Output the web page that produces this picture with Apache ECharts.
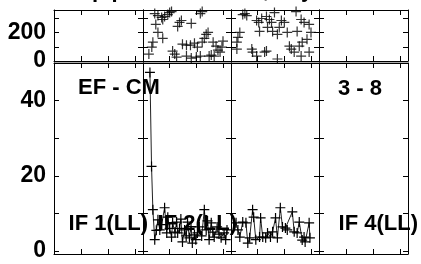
<!DOCTYPE html>
<html>
<head>
<meta charset="utf-8">
<script src="https://cdn.jsdelivr.net/npm/echarts@6/dist/echarts.min.js"></script>
<style>
  html, body { margin: 0; padding: 0; background: #fff; }
  #chart { width: 421px; height: 264px; }
</style>
</head>
<body>
<div id="chart"></div>
<script>
// phase (deg) vs time, IF 2 and IF 3
var tPh2 = [0.22, 0.33, 0.37, 0.44, 0.48, 0.56, 0.56, 0.70, 0.74, 0.74, 0.81, 0.93, 1.00, 1.07, 1.11, 1.19, 1.26, 1.30, 1.37, 1.44, 1.48, 1.63, 1.63, 1.78, 1.81, 1.81, 1.93, 2.00, 2.04, 2.15, 2.15, 2.22, 2.22, 2.30, 2.37, 2.44, 2.48, 2.56, 2.63, 2.67, 2.74, 2.81, 2.89, 2.96, 3.00];
var ph2  = [49, 98, 133, 335, 258, 321, 202, 307, 293, 160, 314, 328, 342, 349, 70, 49, 28, 244, 272, 286, 119, 112, 35, 112, 265, 21, 126, 28, 98, 335, 35, 349, 133, 160, 188, 202, 35, 42, 133, 35, 105, 77, 63, 98, 140];
var tPh3 = [0.22, 0.22, 0.26, 0.33, 0.44, 0.52, 0.59, 0.78, 0.81, 0.96, 0.96, 1.04, 1.07, 1.15, 1.26, 1.33, 1.33, 1.37, 1.44, 1.52, 1.56, 1.63, 1.74, 1.74, 1.81, 1.89, 2.00, 2.11, 2.19, 2.26, 2.37, 2.44, 2.48, 2.56, 2.63, 2.63, 2.67, 2.74, 2.85, 2.93, 2.93, 3.00];
var ph3  = [133, 84, 167, 202, 328, 335, 321, 84, 63, 286, 35, 272, 209, 300, 63, 314, 70, 237, 293, 272, 209, 342, 188, 14, 237, 286, 272, 202, 105, 84, 63, 349, 209, 105, 293, 35, 133, 272, 153, 258, 63, 202];

// amplitude vs time, IF 2 and IF 3
var tAmp2 = [0.26, 0.32, 0.37, 0.44, 0.50, 0.56, 0.63, 0.70, 0.81, 0.89, 0.93, 1.00, 1.07, 1.11, 1.20, 1.26, 1.30, 1.37, 1.42, 1.48, 1.56, 1.62, 1.67, 1.74, 1.80, 1.85, 1.93, 1.98, 2.04, 2.11, 2.20, 2.30, 2.37, 2.42, 2.48, 2.56, 2.62, 2.67, 2.78, 2.85, 2.93, 3.04, 3.10, 3.15];
var amp2  = [47.5, 22.5, 11, 3, 5.5, 8.3, 5.6, 7, 11.5, 4.8, 9, 6, 3.7, 7.5, 5, 7.7, 4.8, 6, 8.5, 2.4, 5.6, 4, 7.7, 3.5, 6.5, 2.1, 4.3, 3, 4.8, 6.4, 4, 11, 5.6, 8, 3, 7.5, 5, 3.7, 6.4, 4.5, 3.5, 4.8, 3, 5.6];
var tAmp3 = [0.19, 0.26, 0.33, 0.44, 0.56, 0.63, 0.70, 0.81, 0.85, 0.93, 1.07, 1.11, 1.19, 1.30, 1.37, 1.48, 1.56, 1.67, 1.74, 1.85, 1.93, 2.04, 2.11, 2.30, 2.37, 2.48, 2.56, 2.67, 2.74, 2.78, 2.93, 2.96];
var amp3  = [7.5, 5.6, 3.7, 7.7, 7.5, 2.1, 3.5, 11, 9, 3, 3.7, 8.8, 3.7, 3.5, 4.8, 3.7, 5.1, 8.8, 3.5, 11.5, 6.4, 6.1, 5.6, 10.4, 5.1, 4.8, 7.7, 2.9, 3.7, 2.4, 7.5, 3.5];

var phTicks = [0, 100, 200, 300];
var phLabels = [0, 200];
var ampTicks = [0, 10, 20, 30, 40];
var ampLabels = [0, 20, 40];

var FONT = 'Liberation Sans';
var colLeft = [54, 143, 231, 319];
var colWidth = [89, 88, 88, 89];
var plus = 'path://M4.4,0H5.6V4.4H10V5.6H5.6V10H4.4V5.6H0V4.4H4.4Z';

var grids = [], xAxes = [], yAxes = [];
for (var g = 0; g < 8; g++) {
  var c = g % 4, isTop = g < 4;
  grids.push({ left: colLeft[c], width: colWidth[c], top: isTop ? 10 : 63, height: isTop ? 51 : 191 });
  ['bottom', 'top'].forEach(function (pos) {
    xAxes.push({
      type: 'value', gridIndex: g, position: pos, min: 0, max: 3.3, interval: 1,
      axisLine: { onZero: false, lineStyle: { color: '#000', width: 1 } },
      axisTick: { inside: true, length: 5, lineStyle: { color: '#000' } },
      axisLabel: { show: false }, splitLine: { show: false }
    });
  });
  ['left', 'right'].forEach(function (pos) {
    var lab = pos === 'left' && c === 0;
    yAxes.push({
      type: 'value', gridIndex: g, position: pos,
      min: isTop ? 0 : -0.8, max: isTop ? 360 : 50,
      axisLine: { onZero: false, lineStyle: { color: '#000', width: 1 } },
      axisTick: { inside: true, length: 5, lineStyle: { color: '#000' }, customValues: isTop ? phTicks : ampTicks },
      axisLabel: { show: lab, customValues: isTop ? phLabels : ampLabels, color: '#000',
                   fontFamily: FONT, fontWeight: 'bold', fontSize: 23, margin: 8 },
      splitLine: { show: false }
    });
  });
}

function zip(a, b) { return a.map(function (v, i) { return [v, b[i]]; }); }

var mark = { color: '#000' };
var series = [
  { type: 'scatter', xAxisIndex: 2, yAxisIndex: 2, data: zip(tPh2, ph2), symbol: plus, symbolSize: 10, itemStyle: mark, silent: true },
  { type: 'scatter', xAxisIndex: 4, yAxisIndex: 4, data: zip(tPh3, ph3), symbol: plus, symbolSize: 10, itemStyle: mark, silent: true },
  { type: 'line', xAxisIndex: 10, yAxisIndex: 10, data: zip(tAmp2, amp2), symbol: plus, symbolSize: 10, itemStyle: mark,
    lineStyle: { color: '#222', width: 1 }, silent: true },
  { type: 'line', xAxisIndex: 12, yAxisIndex: 12, data: zip(tAmp3, amp3), symbol: plus, symbolSize: 10, itemStyle: mark,
    lineStyle: { color: '#222', width: 1 }, silent: true }
];

function label(text, x, y, align) {
  return { type: 'text', x: x, y: y, z: 100, silent: true,
           style: { text: text, fill: '#000', font: 'bold 22px "' + FONT + '"', align: align, verticalAlign: 'middle' } };
}

var chart = echarts.init(document.getElementById('chart'), null, { renderer: 'canvas' });
chart.setOption({
  animation: false,
  backgroundColor: '#fff',
  grid: grids,
  xAxis: xAxes,
  yAxis: yAxes,
  series: series,
  graphic: [
    { type: 'rect', shape: { x: 54, y: 61, width: 354, height: 2 }, style: { fill: '#aaa' }, silent: true },
    { type: 'text', x: 76, y: -20, silent: true,
      style: { text: 'Ap phase vs. time, day 3 - 8', fill: '#000', font: 'bold 22px "' + FONT + '"', align: 'left', verticalAlign: 'top' } },
    label('EF - CM', 78, 88, 'left'),
    label('3 - 8', 338, 89, 'left'),
    label('IF 1(LL)', 148, 224, 'right'),
    label('IF 2(LL)', 237, 224, 'right'),
    label('IF 4(LL)', 418, 224, 'right')
  ]
});
</script>
</body>
</html>
